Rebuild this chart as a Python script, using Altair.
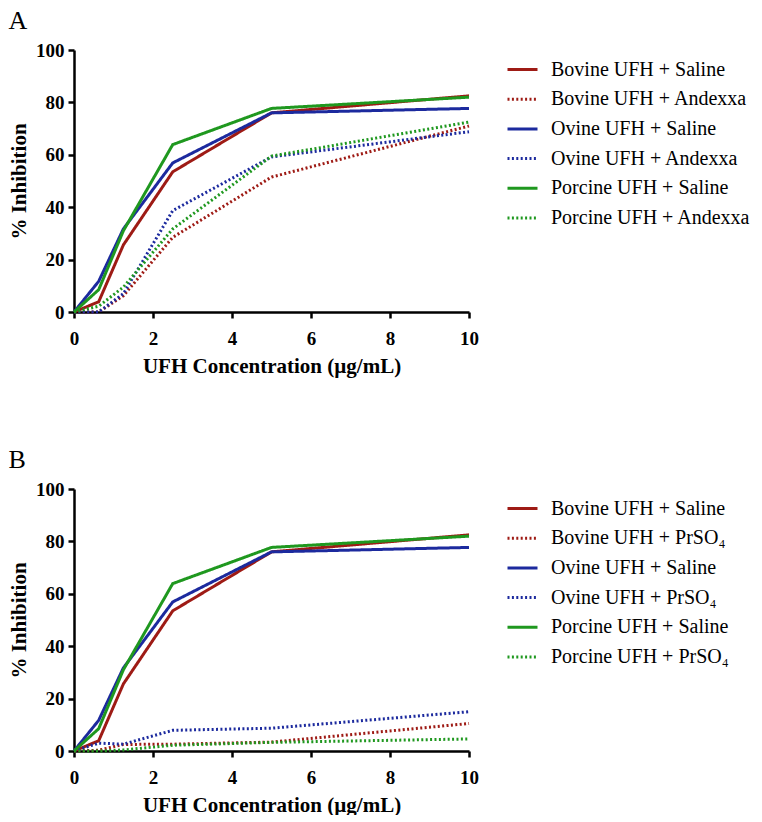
import altair as alt
import pandas as pd

# Data
x_conc = [0, 0.625, 1.25, 2.5, 5, 10]

bovine_saline = [0, 3.9, 25.6, 53.5, 76.0, 82.5]
ovine_saline = [0, 11.7, 31.7, 56.9, 76.0, 77.7]
porcine_saline = [0, 8.5, 31.0, 63.9, 77.7, 82.0]

bovine_andexxa = [0, 0.0, 6.2, 28.5, 51.5, 71.0]
ovine_andexxa = [0, 0.0, 7.0, 38.7, 59.2, 68.8]
porcine_andexxa = [0, 2.2, 9.5, 31.7, 59.5, 72.5]

bovine_prso4 = [0, 0.3, 2.5, 2.6, 3.4, 10.5]
ovine_prso4 = [0, 3.0, 2.6, 7.9, 8.7, 15.0]
porcine_prso4 = [0, 0.0, 0.4, 2.2, 3.3, 4.6]

labels_a = ["Bovine UFH + Saline", "Bovine UFH + Andexxa",
            "Ovine UFH + Saline", "Ovine UFH + Andexxa",
            "Porcine UFH + Saline", "Porcine UFH + Andexxa"]
labels_b = ["Bovine UFH + Saline", "Bovine UFH + PrSO\u2084",
            "Ovine UFH + Saline", "Ovine UFH + PrSO\u2084",
            "Porcine UFH + Saline", "Porcine UFH + PrSO\u2084"]

series_a = [bovine_saline, bovine_andexxa, ovine_saline, ovine_andexxa,
            porcine_saline, porcine_andexxa]
series_b = [bovine_saline, bovine_prso4, ovine_saline, ovine_prso4,
            porcine_saline, porcine_prso4]

RED, BLUE, GREEN = "#9e1b15", "#1c2a9e", "#1f981f"
colors = [RED, RED, BLUE, BLUE, GREEN, GREEN]
dashes = [[1, 0], [2, 2.4], [1, 0], [2, 2.4], [1, 0], [2, 2.4]]

FONT = "Liberation Serif"


def make_df(labels, series):
    rows = []
    for lab, vals in zip(labels, series):
        for xv, yv in zip(x_conc, vals):
            rows.append({"series": lab, "x": xv, "y": yv})
    return pd.DataFrame(rows)


def panel(letter, labels, series):
    df = make_df(labels, series)
    legend = alt.Legend(
        title=None, orient="none", legendX=432, legendY=3, padding=0,
        labelFont=FONT, labelFontSize=20, labelColor="black", labelLimit=400,
        symbolType="stroke", symbolSize=900, symbolStrokeWidth=3,
        labelOffset=12, rowPadding=2.7,
    )
    return alt.Chart(df, title=alt.TitleParams(
        text=letter, anchor="start", frame="bounds", font=FONT,
        fontSize=26, fontWeight="normal", color="black", offset=7,
    )).mark_line(strokeWidth=3).encode(
        x=alt.X("x:Q", scale=alt.Scale(domain=[0, 10], nice=False),
                axis=alt.Axis(values=[0, 2, 4, 6, 8, 10],
                              title="UFH Concentration (\u00b5g/mL)",
                              titlePadding=7, labelPadding=11)),
        y=alt.Y("y:Q", scale=alt.Scale(domain=[0, 100], nice=False),
                axis=alt.Axis(values=[0, 20, 40, 60, 80, 100],
                              title="% Inhibition", titlePadding=6,
                              labelPadding=4)),
        color=alt.Color("series:N", sort=labels,
                        scale=alt.Scale(domain=labels, range=colors),
                        legend=legend),
        strokeDash=alt.StrokeDash("series:N", sort=labels,
                                  scale=alt.Scale(domain=labels, range=dashes),
                                  legend=legend),
    ).properties(width=395, height=262)


chart = alt.vconcat(
    panel("A", labels_a, series_a),
    panel("B", labels_b, series_b),
    spacing=71,
).resolve_scale(color="independent", strokeDash="independent").properties(
    padding={"left": 0, "top": 0, "right": 0, "bottom": 0}
).configure_view(stroke=None).configure_axis(
    grid=False, domainColor="black", domainWidth=2.5, tickColor="black",
    tickWidth=2.5, tickSize=6, labelFont=FONT, labelFontWeight="bold",
    labelFontSize=19, labelColor="black", labelFlush=False,
    titleFont=FONT, titleFontWeight="bold", titleFontSize=21,
    titleColor="black",
)

chart.save("out.html", embed_options={"renderer": "svg", "actions": False})
